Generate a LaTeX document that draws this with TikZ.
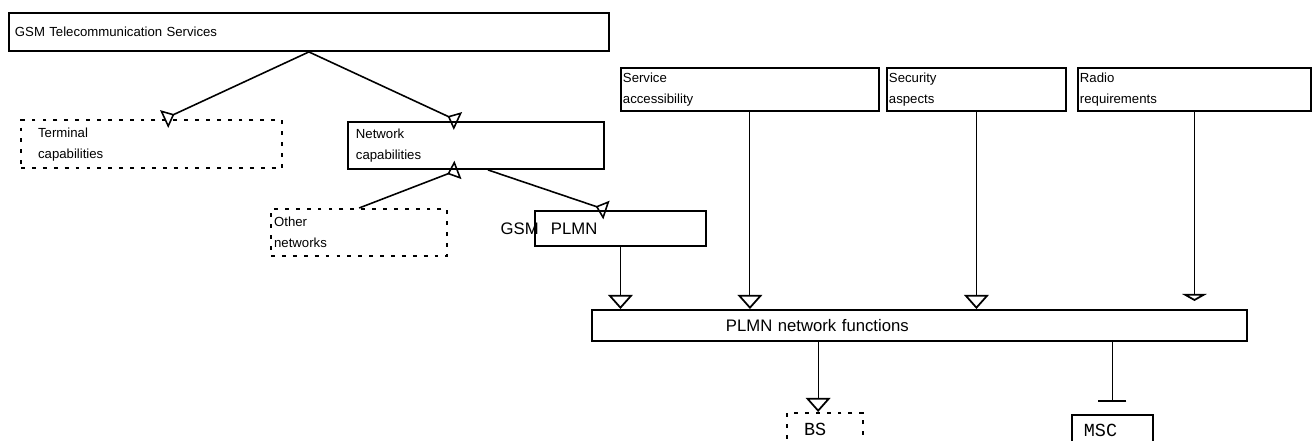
\documentclass[tikz,border=0pt]{standalone}
\usepackage{fontspec}
\setmainfont{Liberation Sans}
\setmonofont{Liberation Mono}
\usepackage{tikz}
\usetikzlibrary{arrows.meta,positioning}
\newcommand{\smalltxt}{\fontsize{7.5pt}{12pt}\selectfont}
\newcommand{\bigtxt}{\fontsize{9.5pt}{11pt}\selectfont}
\newcommand{\monotxt}{\fontsize{10.5pt}{12pt}\selectfont\ttfamily}

\begin{document}
\begin{tikzpicture}[
    x=0.02cm, y=-0.02cm,
    box/.style={draw, line width=1.1pt, anchor=north west, align=left,
                inner ysep=0pt, font=\smalltxt},
    dotbox/.style={box, line width=1.3pt, dash pattern=on 2.2pt off 4pt},
    link/.style={line width=0.9pt,
                 -{Triangle[open, reversed, width=11pt, length=6.5pt, line width=0.9pt]}},
    feed/.style={line width=0.6pt,
                 -{Triangle[open, width=14pt, length=8pt, line width=1pt]}}
]
\useasboundingbox (0,0) rectangle (1312,440);
\clip (0,0) rectangle (1312,440);
% left tree
\node[box, inner xsep=0.12cm, text width=11.76cm, minimum height=0.76cm]
     (serv) at (8,12) {GSM Telecommunication Services};
\node[dotbox, inner xsep=0.34cm, text width=4.54cm, minimum height=0.96cm]
     (term) at (20,119) {Terminal\\capabilities};
\node[box, inner xsep=0.16cm, text width=4.80cm, minimum height=0.94cm]
     (netcap) at (347,121) {Network\\capabilities};
\node[dotbox, inner xsep=0.06cm, text width=3.40cm, minimum height=0.94cm]
     (other) at (270,208) {Other\\networks};
\node[box, inner xsep=0.32cm, text width=2.78cm, minimum height=0.70cm,
      font=\bigtxt] (plmn) at (534,210) {PLMN};
\node[anchor=east, inner sep=0pt, font=\bigtxt, xshift=0.1cm]
     (gsm) at (plmn.west) {GSM};
% requirement boxes
\node[box, inner xsep=0.04cm, text width=5.08cm, minimum height=0.86cm]
     (access) at (620,67) {Service\\accessibility};
\node[box, inner xsep=0.04cm, text width=3.50cm, minimum height=0.86cm]
     (secur) at (886,67) {Security\\aspects};
\node[box, inner xsep=0.04cm, text width=4.58cm, minimum height=0.86cm]
     (radio) at (1077,67) {Radio\\requirements};
% functions and entities
\node[box, inner xsep=0.04cm, text width=13.02cm, minimum height=0.62cm,
      font=\bigtxt] (func) at (591,309) {\hspace*{2.64cm}PLMN network functions};
\node[dotbox, inner xsep=0.34cm, text width=0.84cm, minimum height=0.66cm,
      font=\monotxt] (bs) at (786,412) {BS};
\node[box, line width=1pt, inner xsep=0.24cm, text width=1.14cm,
      minimum height=0.62cm, font=\monotxt] (msc) at (1071,414) {MSC};
\coordinate (bsin) at ([xshift=-0.14cm]bs.north);

\draw[link] (serv.south) -- ([xshift=0.25cm]term.north);
\draw[link] (serv.south) -- ([xshift=-0.36cm]netcap.north);
\draw[link] (other.north) -- ([xshift=-0.36cm]netcap.south);
\draw[link] ([xshift=0.24cm]netcap.south) -- ([xshift=-0.28cm]plmn.north);
\draw[feed] (plmn.south) -- (plmn.south |- func.north);
\draw[feed] (access.south) -- (access.south |- func.north);
\draw[feed] (secur.south) -- (secur.south |- func.north);
\draw[feed, -{Triangle[open, width=14pt, length=4pt, line width=1pt]},
      shorten >=0.16cm] (radio.south) -- (radio.south |- func.north);
\draw[feed] (bsin |- func.south) -- (bsin);
\draw[line width=0.6pt, -{Bar[width=16pt, line width=1.2pt]}, shorten >=0.24cm]
     (msc.north |- func.south) -- (msc.north);
\end{tikzpicture}
\end{document}
